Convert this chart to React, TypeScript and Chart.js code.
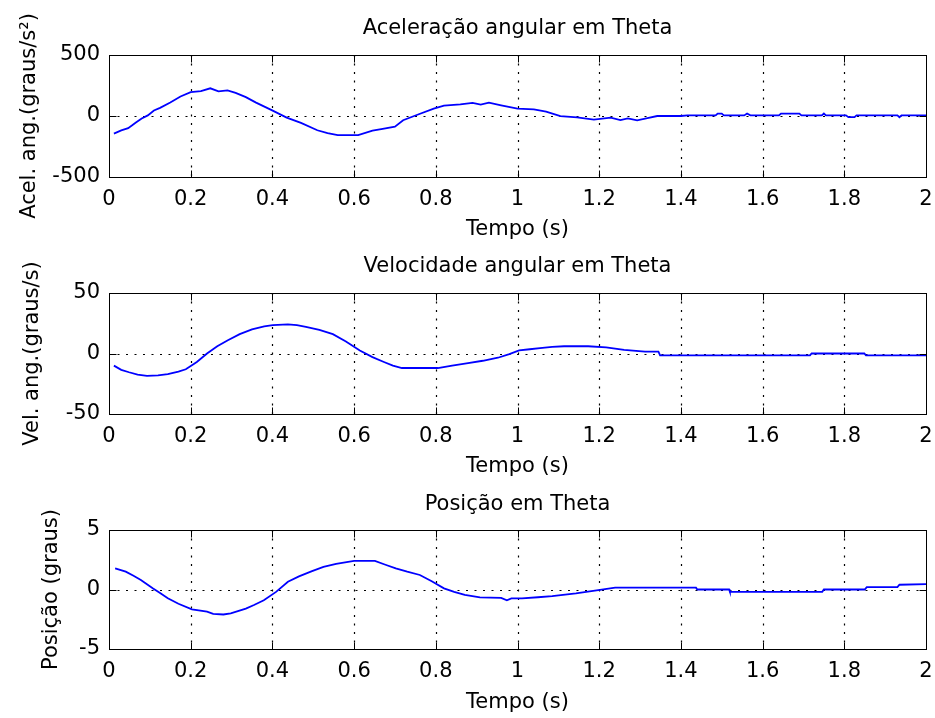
import { useEffect, useRef } from 'react';
import { Chart, registerables } from 'chart.js';

Chart.register(...registerables);

// Shared time axis labels (s)
const TIME_TICK_LABELS = ['0', '0.2', '0.4', '0.6', '0.8', '1', '1.2', '1.4', '1.6', '1.8', '2'];

// Angular acceleration (graus/s²)
const accelTime = [
  0.012, 0.03, 0.047, 0.065, 0.08, 0.095, 0.11, 0.125, 0.15, 0.175, 0.2, 0.225, 0.248, 0.268, 0.29,
  0.31, 0.335, 0.36, 0.397, 0.435, 0.47, 0.51, 0.535, 0.56, 0.61, 0.645, 0.67, 0.7, 0.72, 0.755,
  0.795, 0.82, 0.86, 0.89, 0.91, 0.93, 0.96, 1.0, 1.04, 1.07, 1.105, 1.146, 1.187, 1.228, 1.252,
  1.27, 1.293, 1.318, 1.342, 1.4, 1.416, 1.485, 1.49, 1.5, 1.505, 1.555, 1.562, 1.57, 1.64, 1.645,
  1.69, 1.695, 1.745, 1.75, 1.755, 1.804, 1.81, 1.825, 1.83, 1.93, 1.935, 1.94, 2.0,
];
const accelValues = [
  -145, -118, -100, -55, -20, 5, 45, 67, 110, 160, 195, 203, 227, 202, 210,
  190, 155, 110, 50, -13, -57, -117, -140, -157, -157, -120, -105, -87, -35, 10,
  60, 85, 95, 108, 93, 109, 87, 60, 55, 35, -1, -11, -29, -13, -33,
  -19, -35, -17, 0, 0, 5, 5, 20, 20, 5, 5, 20, 5, 5, 20,
  20, 5, 5, 20, 5, 5, -10, -10, 5, 5, -10, 5, 5,
];

// Angular velocity (graus/s)
const velTime = [
  0.012, 0.03, 0.049, 0.07, 0.093, 0.12, 0.144, 0.17, 0.188, 0.215, 0.24, 0.265, 0.291, 0.32, 0.35,
  0.38, 0.401, 0.438, 0.46, 0.482, 0.515, 0.548, 0.58, 0.614, 0.645, 0.673, 0.695, 0.717, 0.805, 0.84,
  0.879, 0.915, 0.952, 0.98, 1.004, 1.03, 1.055, 1.085, 1.114, 1.173, 1.217, 1.261, 1.312, 1.345, 1.349,
  1.716, 1.72, 1.849, 1.853, 2.0,
];
const velValues = [
  -10, -13.5, -15.5, -17.5, -18.5, -18, -17, -15, -13, -7, 0, 6, 11, 16, 20,
  22.5, 23.4, 24, 23.5, 22, 19.5, 16, 10, 2.4, -3, -7, -10, -12, -12, -10,
  -8, -6, -3.5, -0.5, 2.5, 3.5, 4.5, 5.5, 6, 6, 5, 3, 1.5, 1.5, -1.5,
  -1.5, 0, 0, -1.5, -1.5,
];

// Angular position (graus)
const posTime = [
  0.015, 0.041, 0.06, 0.078, 0.107, 0.125, 0.144, 0.17, 0.203, 0.24, 0.255, 0.28, 0.298, 0.335, 0.355,
  0.379, 0.409, 0.438, 0.465, 0.497, 0.525, 0.556, 0.6, 0.651, 0.675, 0.702, 0.73, 0.761, 0.79, 0.82,
  0.845, 0.871, 0.908, 0.96, 0.974, 0.985, 1.011, 1.05, 1.085, 1.143, 1.202, 1.239, 1.437, 1.44, 1.518,
  1.52, 1.746, 1.75, 1.85, 1.855, 1.93, 1.935, 2.0,
];
const posValues = [
  1.78, 1.5, 1.15, 0.8, 0.1, -0.3, -0.74, -1.2, -1.67, -1.86, -2.05, -2.1, -2.0, -1.6, -1.3,
  -0.9, -0.2, 0.65, 1.1, 1.55, 1.9, 2.15, 2.4, 2.4, 2.1, 1.78, 1.5, 1.22, 0.7, 0.1,
  -0.2, -0.46, -0.66, -0.7, -0.9, -0.74, -0.74, -0.65, -0.55, -0.32, -0.04, 0.15, 0.15, 0, 0,
  -0.2, -0.2, 0, 0, 0.2, 0.2, 0.4, 0.45,
];

const FONT_FAMILY = "'DejaVu Sans', 'Liberation Sans', sans-serif";
const FONT_SIZE = 21;

// Dotted grid plus a boxed frame with inward tick marks
const boxedAxes = {
  id: 'boxedAxes',
  beforeDatasetsDraw(chart: any) {
    const { ctx, chartArea: a, scales } = chart;
    const xs = scales.x;
    const ys = scales.y;
    ctx.save();
    ctx.strokeStyle = '#000';
    ctx.lineWidth = 1.2;
    ctx.setLineDash([2, 6.5]);
    xs.ticks.forEach((t: any) => {
      const px = Math.round(xs.getPixelForValue(t.value)) + 0.5;
      if (px > a.left + 2 && px < a.right - 2) {
        ctx.beginPath();
        ctx.moveTo(px, a.top);
        ctx.lineTo(px, a.bottom);
        ctx.stroke();
      }
    });
    ys.ticks.forEach((t: any) => {
      const py = Math.round(ys.getPixelForValue(t.value)) + 0.5;
      if (py > a.top + 2 && py < a.bottom - 2) {
        ctx.beginPath();
        ctx.moveTo(a.left, py);
        ctx.lineTo(a.right, py);
        ctx.stroke();
      }
    });
    ctx.restore();
  },
  afterDatasetsDraw(chart: any) {
    const { ctx, chartArea: a, scales } = chart;
    const xs = scales.x;
    const ys = scales.y;
    const L = Math.round(a.left) + 0.5;
    const R = Math.round(a.right) + 0.5;
    const T = Math.round(a.top) + 0.5;
    const B = Math.round(a.bottom) + 0.5;
    const len = 7;
    ctx.save();
    ctx.strokeStyle = '#000';
    ctx.lineWidth = 1;
    ctx.setLineDash([]);
    ctx.strokeRect(L, T, R - L, B - T);
    ctx.beginPath();
    xs.ticks.forEach((t: any) => {
      const px = Math.round(xs.getPixelForValue(t.value)) + 0.5;
      ctx.moveTo(px, B);
      ctx.lineTo(px, B - len);
      ctx.moveTo(px, T);
      ctx.lineTo(px, T + len);
    });
    ys.ticks.forEach((t: any) => {
      const py = Math.round(ys.getPixelForValue(t.value)) + 0.5;
      ctx.moveTo(L, py);
      ctx.lineTo(L + len, py);
      ctx.moveTo(R, py);
      ctx.lineTo(R - len, py);
    });
    ctx.stroke();
    ctx.restore();
  },
};

type PanelSpec = {
  title: string;
  yLabel: string;
  time: number[];
  values: number[];
  yLimit: number;
  top: number;
  height: number;
  titlePadTop: number;
  titlePadBottom: number;
  xAxisHeight: number;
  xTitlePadBottom: number;
  yTitlePad: number;
};

const panels: PanelSpec[] = [
  {
    title: 'Aceleração angular em Theta',
    yLabel: 'Acel. ang.(graus/s²)',
    time: accelTime,
    values: accelValues,
    yLimit: 500,
    top: 0,
    height: 245,
    titlePadTop: 16,
    titlePadBottom: 13.8,
    xAxisHeight: 68,
    xTitlePadBottom: 2.4,
    yTitlePad: 17,
  },
  {
    title: 'Velocidade angular em Theta',
    yLabel: 'Vel. ang.(graus/s)',
    time: velTime,
    values: velValues,
    yLimit: 50,
    top: 245,
    height: 240,
    titlePadTop: 9.4,
    titlePadBottom: 13.4,
    xAxisHeight: 71,
    xTitlePadBottom: 5.4,
    yTitlePad: 20,
  },
  {
    title: 'Posição em Theta',
    yLabel: 'Posição (graus)',
    time: posTime,
    values: posValues,
    yLimit: 5,
    top: 485,
    height: 233,
    titlePadTop: 7,
    titlePadBottom: 12.8,
    xAxisHeight: 69,
    xTitlePadBottom: 2.4,
    yTitlePad: 39,
  },
];

function Panel({ spec }: { spec: PanelSpec }) {
  const ref = useRef<HTMLCanvasElement | null>(null);
  useEffect(() => {
    if (!ref.current) return;
    const font = { family: FONT_FAMILY, size: FONT_SIZE, weight: 'normal' as const };
    const data = spec.time.map((t, i) => ({ x: t, y: spec.values[i] }));
    const chart = new Chart(ref.current, {
      type: 'line',
      data: {
        datasets: [
          {
            data,
            borderColor: '#0000ff',
            borderWidth: 1.8,
            pointRadius: 0,
            tension: 0,
            fill: false,
          },
        ],
      },
      options: {
        animation: false,
        responsive: false,
        devicePixelRatio: 1,
        layout: { padding: { left: 0, right: 9, top: 0, bottom: 0 } },
        plugins: {
          legend: { display: false },
          tooltip: { enabled: false },
          title: {
            display: true,
            fullSize: false,
            text: spec.title,
            color: '#000',
            font,
            padding: { top: spec.titlePadTop, bottom: spec.titlePadBottom },
          },
        },
        scales: {
          x: {
            type: 'linear',
            min: 0,
            max: 2,
            grid: { display: false, drawTicks: false },
            border: { display: false },
            ticks: {
              stepSize: 0.2,
              maxRotation: 0,
              autoSkip: false,
              padding: 10,
              color: '#000',
              font,
              callback: (_v: any, i: number) => TIME_TICK_LABELS[i],
            },
            title: {
              display: true,
              text: 'Tempo (s)',
              color: '#000',
              font,
              padding: { top: 0, bottom: spec.xTitlePadBottom },
            },
            afterFit: (s: any) => {
              s.height = spec.xAxisHeight;
              s.paddingLeft = 0;
              s.paddingRight = 0;
            },
          },
          y: {
            type: 'linear',
            min: -spec.yLimit,
            max: spec.yLimit,
            grid: { display: false, drawTicks: false },
            border: { display: false },
            ticks: {
              stepSize: spec.yLimit,
              padding: 9,
              color: '#000',
              font,
            },
            title: {
              display: true,
              text: spec.yLabel,
              color: '#000',
              font,
              padding: { top: spec.yTitlePad, bottom: 0 },
            },
            afterFit: (s: any) => {
              s.width = 109;
            },
          },
        },
      },
      plugins: [boxedAxes],
    });
    return () => chart.destroy();
  }, [spec]);
  return (
    <canvas
      ref={ref}
      width={935}
      height={spec.height}
      style={{ position: 'absolute', left: 0, top: spec.top, width: 935, height: spec.height }}
    />
  );
}

export default function App() {
  return (
    <div style={{ position: 'absolute', left: 0, top: 0, width: 935, height: 718, background: '#fff' }}>
      {panels.map((p) => (
        <Panel key={p.title} spec={p} />
      ))}
    </div>
  );
}
